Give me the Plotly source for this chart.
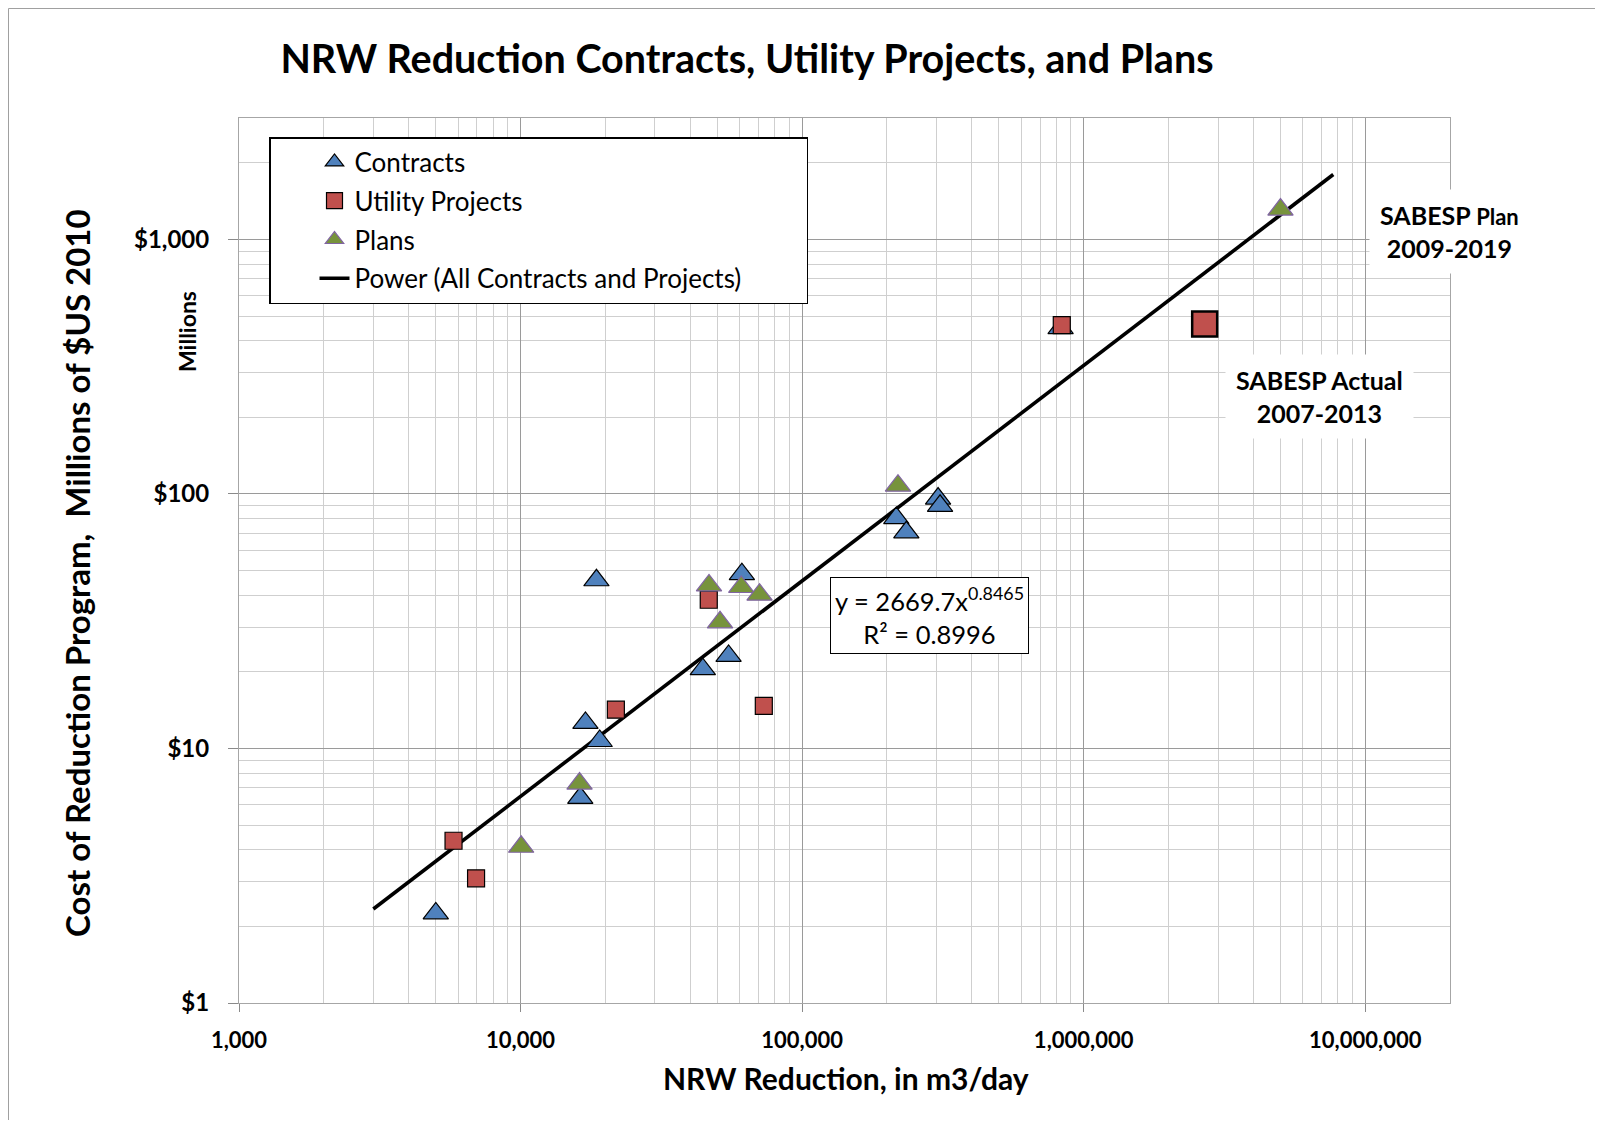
import plotly.graph_objects as go

# ---------------- data ----------------
contracts_x = [5000, 16300, 17000, 19100, 18600, 44400, 54800, 61100,
               216000, 234500, 304000, 309000, 828000]
contracts_y = [2.25, 6.4, 12.6, 10.7, 45.8, 20.5, 23.1, 48.4,
               80.4, 70.7, 95.9, 89.8, 448]

utility_x = [5780, 6950, 21800, 46600, 73100, 836000]
utility_y = [4.34, 3.09, 14.2, 38.4, 14.7, 461]

sabesp_actual_x = [2690000]
sabesp_actual_y = [465]

plans_x = [10050, 16200, 46700, 51100, 60800, 70600, 219000, 5000000]
plans_y = [4.11, 7.28, 43.7, 31.3, 43.1, 40.2, 107.8, 1310]

trend_x = [3000, 7700000]
trend_y = [2.34, 1800]

x_tick_vals = [1000, 10000, 100000, 1000000, 10000000]
x_tick_text = ["1,000", "10,000", "100,000", "1,000,000", "10,000,000"]
y_tick_vals = [1, 10, 100, 1000]
y_tick_text = ["$1", "$10", "$100", "$1,000"]

FONT = "Lato"

# minor grid positions (2..9 within each decade)
minor_x = [k * 10 ** d for d in range(3, 8) for k in range(2, 10) if k * 10 ** d <= 2e7]
minor_y = [k * 10 ** d for d in range(0, 4) for k in range(2, 10) if k * 10 ** d <= 3000]

fig = go.Figure()

fig.add_trace(go.Scatter(
    x=trend_x, y=trend_y, mode="lines",
    name="Power (All Contracts and Projects)" + "&nbsp;" * 9,
    legendrank=4, legendgroup="d",
    line=dict(color="#000000", width=3.6),
))
fig.add_trace(go.Scatter(
    x=contracts_x, y=contracts_y, mode="markers", name="Contracts",
    legendrank=1, legendgroup="a",
    marker=dict(symbol="triangle-up", size=22, color="#4f81bd",
                line=dict(color="#000000", width=1.2)),
))
fig.add_trace(go.Scatter(
    x=utility_x, y=utility_y, mode="markers", name="Utility Projects",
    legendrank=2, legendgroup="b",
    marker=dict(symbol="square", size=17, color="#c0504d",
                line=dict(color="#000000", width=1.2)),
))
fig.add_trace(go.Scatter(
    x=plans_x, y=plans_y, mode="markers", name="Plans",
    legendrank=3, legendgroup="c",
    marker=dict(symbol="triangle-up", size=22, color="#77933c",
                line=dict(color="#8064a2", width=1.2)),
))
fig.add_trace(go.Scatter(
    x=sabesp_actual_x, y=sabesp_actual_y, mode="markers", showlegend=False,
    marker=dict(symbol="square", size=25, color="#c0504d",
                line=dict(color="#000000", width=2.5)),
))

W, H = 1587, 1112
L, R, T, B = 231, 145, 110, 117
PW = W - L - R
PH = H - T - B

def px(xf):
    return (xf - L) / PW

def py(yf):
    return (H - B - yf) / PH

fig.update_layout(
    width=W, height=H,
    margin=dict(l=L, r=R, t=T, b=B),
    paper_bgcolor="white", plot_bgcolor="white",
    font=dict(family=FONT, color="#000000"),
    title=dict(text="<b>NRW Reduction Contracts, Utility Projects, and Plans</b>",
               xref="container", yref="container",
               x=739 / W, xanchor="center", y=1 - 51 / H, yanchor="middle",
               font=dict(size=39.5, family=FONT)),
    showlegend=True,
    legend=dict(x=px(261), y=py(129), xanchor="left", yanchor="top",
                bgcolor="white", bordercolor="#000000", borderwidth=1.5,
                font=dict(size=26, family=FONT), itemwidth=30,
                indentation=44, tracegroupgap=2),
    xaxis=dict(type="log", range=[3, 7.30103],
               tickmode="array", tickvals=x_tick_vals, ticktext=x_tick_text,
               tickfont=dict(size=22, family=FONT, weight="bold"),
               showgrid=True, gridcolor="#9a9a9a", gridwidth=1,
               ticks="outside", ticklen=8, tickcolor="#8a8a8a",
               showline=True, linecolor="#a6a6a6", linewidth=1, mirror=True,
               ticklabelstandoff=10,
               minor=dict(tickmode="array", tickvals=minor_x, showgrid=True,
                          gridcolor="#cfcfcf", gridwidth=1, ticks=""),
               zeroline=False),
    yaxis=dict(type="log", range=[0, 3.47712],
               tickmode="array", tickvals=y_tick_vals, ticktext=y_tick_text,
               tickfont=dict(size=24, family=FONT, weight="bold"),
               showgrid=True, gridcolor="#9a9a9a", gridwidth=1,
               ticks="outside", ticklen=10, tickcolor="#8a8a8a",
               showline=True, linecolor="#a6a6a6", linewidth=1, mirror=True,
               ticklabelstandoff=14,
               minor=dict(tickmode="array", tickvals=minor_y, showgrid=True,
                          gridcolor="#cfcfcf", gridwidth=1, ticks=""),
               zeroline=False),
)

annotations = [
    dict(text="<b>Cost of Reduction Program,  Millions of $US 2010</b>",
         x=px(69), y=py(565), textangle=-90, font=dict(size=33, family=FONT)),
    dict(text="<b>Millions</b>", x=px(179), y=py(324), textangle=-90,
         font=dict(size=23, family=FONT)),
    dict(text="<b>NRW Reduction, in m3/day</b>", x=px(838), y=py(1070),
         font=dict(size=30, family=FONT)),
    dict(text="y = 2669.7x<sup>0.8465</sup><br>R² = 0.8996", x=px(921), y=py(607),
         font=dict(size=25.5, family=FONT), bgcolor="white", bordercolor="#000000",
         borderwidth=1, borderpad=4, align="center"),
    dict(text="<b>SABESP <span style='font-size:22px'>Plan</span><br>2009-2019</b>",
         x=px(1441), y=py(223), font=dict(size=25, family=FONT),
         bgcolor="white", borderpad=10, align="center"),
    dict(text="<b>SABESP Actual<br>2007-2013</b>",
         x=px(1311), y=py(388), font=dict(size=25, family=FONT),
         bgcolor="white", borderpad=10, align="center"),
]
for a in annotations:
    a.setdefault("xref", "paper")
    a.setdefault("yref", "paper")
    a.setdefault("showarrow", False)
    a.setdefault("xanchor", "center")
    a.setdefault("yanchor", "middle")
    fig.add_annotation(**a)

# outer chart-area border (top and left edges)
fig.add_shape(type="line", xref="paper", yref="paper",
              x0=px(0.5), x1=px(W), y0=py(0.5), y1=py(0.5),
              line=dict(color="#a0a0a0", width=1))
fig.add_shape(type="line", xref="paper", yref="paper",
              x0=px(0.5), x1=px(0.5), y0=py(0.5), y1=py(H),
              line=dict(color="#a0a0a0", width=1))

fig.write_html("out.html")
